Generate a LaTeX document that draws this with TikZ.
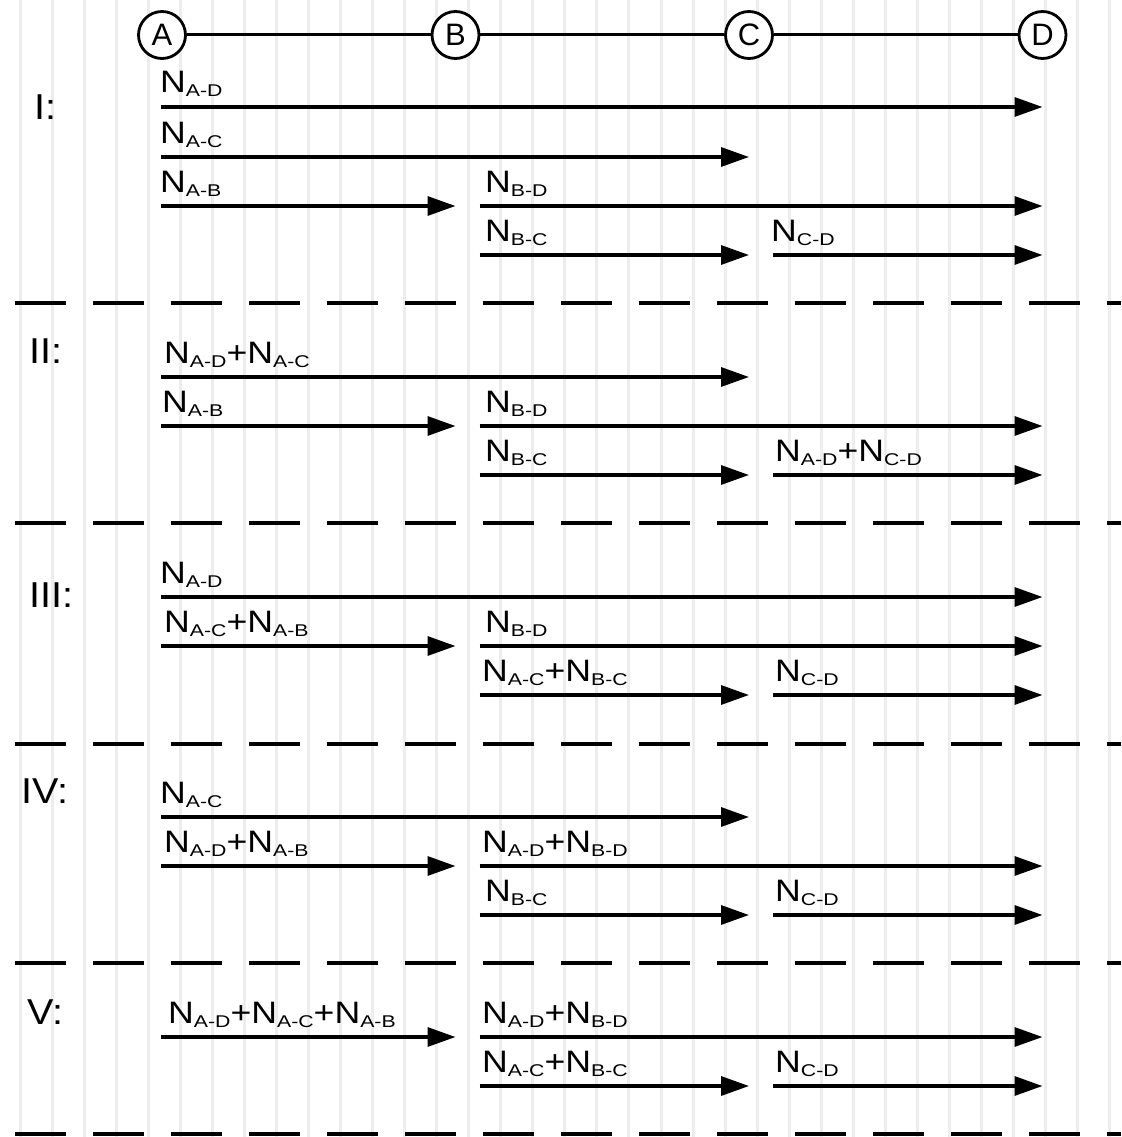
\documentclass[tikz,border=0pt]{standalone}
\usepackage{fontspec}
\setmainfont{Liberation Sans}
\newfontfamily\lblfont[FakeStretch=1.15]{Liberation Sans}
\newfontfamily\subfont[FakeStretch=1.25]{Liberation Sans}
\newfontfamily\secfont[FakeStretch=1.1]{Liberation Sans}
\usetikzlibrary{arrows.meta}

% load symbol N with a lowered, wide subscript
\newcommand\Nx[1]{N\raisebox{-4pt}{\subfont\fontsize{17pt}{17pt}\selectfont #1}}

\tikzset{
  station/.style={circle, draw, line width=2.8pt, minimum size=47pt, inner sep=0pt,
    fill=white, font=\fontsize{31pt}{31pt}\selectfont},
  link/.style={line width=3pt},
  flow/.style={line width=3.3pt, -{Triangle[length=28pt,width=19pt]}},
  flowlabel/.style={anchor=base west, inner sep=0pt, font=\lblfont\fontsize{31pt}{31pt}\selectfont},
  secname/.style={anchor=base west, inner sep=0pt, font=\secfont\fontsize{36pt}{36pt}\selectfont},
  divider/.style={line width=3.2pt, dash pattern=on 51pt off 27pt},
  gridline/.style={line width=3pt, draw=black!7},
}

% \flow{id}{from}{x offset}{to}{y}{label x}{label}
\newcommand\flow[7]{%
  \coordinate (#1y) at (0,#5);
  \path (#2 |- #1y) ++(#3,0) coordinate (#1s);
  \coordinate (#1e) at (#4 |- #1y);
  \draw[flow] (#1s) -- (#1e);
  \node[flowlabel] (#1l) at (#6,#5-14) {#7};
}

% \divline{id}{y}
\newcommand\divline[2]{%
  \coordinate (#1l) at (15,#2);
  \coordinate (#1r) at (1121,#2);
  \draw[divider] (#1l) -- (#1r);
}

\begin{document}
\begin{tikzpicture}[x=1pt, y=-1pt]
  \useasboundingbox (0,0) rectangle (1121,1137);
  \fill[white] (0,0) rectangle (1121,1137);

  % faint background grid
  \foreach \i in {0,...,34}
    \draw[gridline] (20+\i*32.05,0) -- (20+\i*32.05,1137);

  % stations and line
  \node[station] (A) at (162,35) {A};
  \node[station] (B) at (455.5,35) {B};
  \node[station] (C) at (749,35) {C};
  \node[station] (D) at (1042.5,35) {D};
  \draw[link] (A) -- (B);
  \draw[link] (B) -- (C);
  \draw[link] (C) -- (D);

  % variant I
  \node[secname] (s1) at (34,120) {I:};
  \flow{f1}{A}{-1}{D}{107}{160}{\Nx{A-D}}
  \flow{f2}{A}{-1}{C}{157}{160}{\Nx{A-C}}
  \flow{f3}{A}{-1}{B}{206}{160}{\Nx{A-B}}
  \flow{f4}{B}{24}{D}{206}{485}{\Nx{B-D}}
  \flow{f5}{B}{24}{C}{255}{485}{\Nx{B-C}}
  \flow{f6}{C}{24}{D}{255}{771}{\Nx{C-D}}
  \divline{d1}{303}

  % variant II
  \node[secname] (s2) at (29,363) {II:};
  \flow{f7}{A}{-1}{C}{377}{164}{\Nx{A-D}+\Nx{A-C}}
  \flow{f8}{A}{-1}{B}{426}{162}{\Nx{A-B}}
  \flow{f9}{B}{24}{D}{426}{485}{\Nx{B-D}}
  \flow{f10}{B}{24}{C}{475}{485}{\Nx{B-C}}
  \flow{f11}{C}{24}{D}{475}{775}{\Nx{A-D}+\Nx{C-D}}
  \divline{d2}{523}

  % variant III
  \node[secname] (s3) at (29,607) {III:};
  \flow{f12}{A}{-1}{D}{597}{160}{\Nx{A-D}}
  \flow{f13}{A}{-1}{B}{646}{164}{\Nx{A-C}+\Nx{A-B}}
  \flow{f14}{B}{24}{D}{646}{485}{\Nx{B-D}}
  \flow{f15}{B}{24}{C}{695}{482}{\Nx{A-C}+\Nx{B-C}}
  \flow{f16}{C}{24}{D}{695}{775}{\Nx{C-D}}
  \divline{d3}{744}

  % variant IV
  \node[secname] (s4) at (21,803) {IV:};
  \flow{f17}{A}{-1}{C}{817}{160}{\Nx{A-C}}
  \flow{f18}{A}{-1}{B}{866}{164}{\Nx{A-D}+\Nx{A-B}}
  \flow{f19}{B}{24}{D}{866}{482}{\Nx{A-D}+\Nx{B-D}}
  \flow{f20}{B}{24}{C}{915}{485}{\Nx{B-C}}
  \flow{f21}{C}{24}{D}{915}{775}{\Nx{C-D}}
  \divline{d4}{963}

  % variant V
  \node[secname] (s5) at (27,1024) {V:};
  \flow{f22}{A}{-1}{B}{1037}{168}{\Nx{A-D}+\Nx{A-C}+\Nx{A-B}}
  \flow{f23}{B}{24}{D}{1037}{482}{\Nx{A-D}+\Nx{B-D}}
  \flow{f24}{B}{24}{C}{1086}{482}{\Nx{A-C}+\Nx{B-C}}
  \flow{f25}{C}{24}{D}{1086}{775}{\Nx{C-D}}
  \divline{d5}{1134}
\end{tikzpicture}
\end{document}
